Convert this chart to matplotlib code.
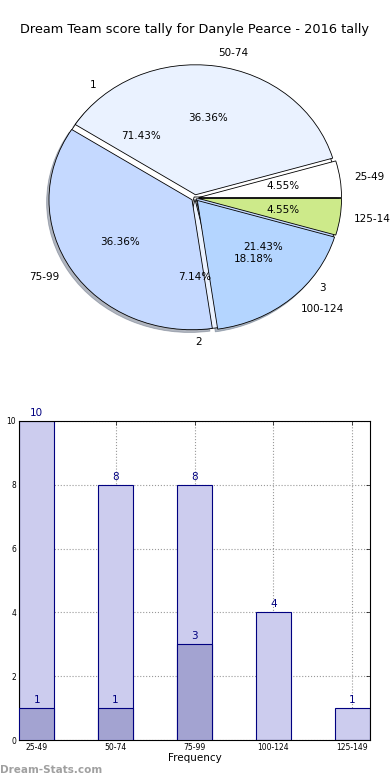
import matplotlib
matplotlib.use("Agg")
import matplotlib.pyplot as plt

title = "Dream Team score tally for Danyle Pearce - 2016 tally"
categories = ['25-49', '50-74', '75-99', '100-124', '125-149']
pie_values = [1, 8, 8, 4, 1]
pie2_labels = ['1', '2', '3']
pie2_values = [10, 1, 3]
bar_light = [10, 8, 8, 4, 1]
bar_dark = [1, 1, 3]
yticks = [0, 2, 4, 6, 8, 10]

pie_colors = ['#ffffff', '#eaf2ff', '#c5d9ff', '#b4d5ff', '#cdea8a']

plt.rcParams['font.family'] = ['DejaVu Sans']
fig = plt.figure(figsize=(3.9, 7.8), dpi=100)

fig.text(0.5, 1 - 30 / 780, title, ha='center', va='center', fontsize=9.3)

# pie axes
axp = fig.add_axes([0, (780 - 356) / 780, 1, 316 / 780])
wp = dict(edgecolor='black', linewidth=0.6)
axp.pie(pie2_values, labels=pie2_labels, colors=pie_colors[:3],
        explode=[0.01] * 3, autopct='%1.2f%%', shadow=False,
        wedgeprops=wp, textprops=dict(fontsize=7.5))
axp.pie(pie_values, labels=categories, colors=pie_colors,
        explode=[0.025] * 5, autopct='%1.2f%%',
        shadow=dict(ox=-0.012, oy=-0.015, shade=0.5),
        wedgeprops=wp, textprops=dict(fontsize=7.5))
axp.set_aspect('auto')
axp.set_xlim(-195 / 143, 195 / 143)
axp.set_ylim(-158 / 130, 158 / 130)
axp.axis('off')

# bar axes
axb = fig.add_axes([19 / 390, 40 / 780, 351 / 390, 319 / 780])
x = list(range(len(categories)))
w = 0.45
navy = '#000080'
axb.bar(x, bar_light, width=w, color='#ccccee', edgecolor=navy, linewidth=0.8, zorder=2)
axb.bar(x[:len(bar_dark)], bar_dark, width=w, color='#a3a3d1', edgecolor=navy, linewidth=0.8, zorder=3)
for xi, v in zip(x, bar_light):
    axb.text(xi, v + 0.1, str(v), ha='center', va='bottom', color=navy, fontsize=7.5, zorder=4)
for xi, v in zip(x, bar_dark):
    axb.text(xi, v + 0.1, str(v), ha='center', va='bottom', color=navy, fontsize=7.5, zorder=4)
axb.set_xlim(-w / 2, len(categories) - 1 + w / 2)
axb.set_ylim(0, 10)
axb.set_xticks(x)
axb.set_xticklabels(categories, fontsize=5.5)
axb.set_yticks(yticks)
axb.set_yticklabels([str(t) for t in yticks], fontsize=5.5)
axb.tick_params(direction='in', top=True, right=True, length=3, width=0.5, pad=2)
axb.grid(True, linestyle=':', color='#999999', linewidth=0.8, zorder=0)
axb.set_axisbelow(True)
for s in axb.spines.values():
    s.set_linewidth(0.8)
axb.set_xlabel('Frequency', fontsize=7.5, labelpad=1)
axb.set_ylabel('Score Interval', fontsize=7.5, labelpad=8)

fig.text(0.0, 1 - 770 / 780, 'Dream-Stats.com', ha='left', va='center',
         fontsize=7.5, color='#a0a0a0', fontweight='bold')

fig.savefig('out.png', dpi=100)
